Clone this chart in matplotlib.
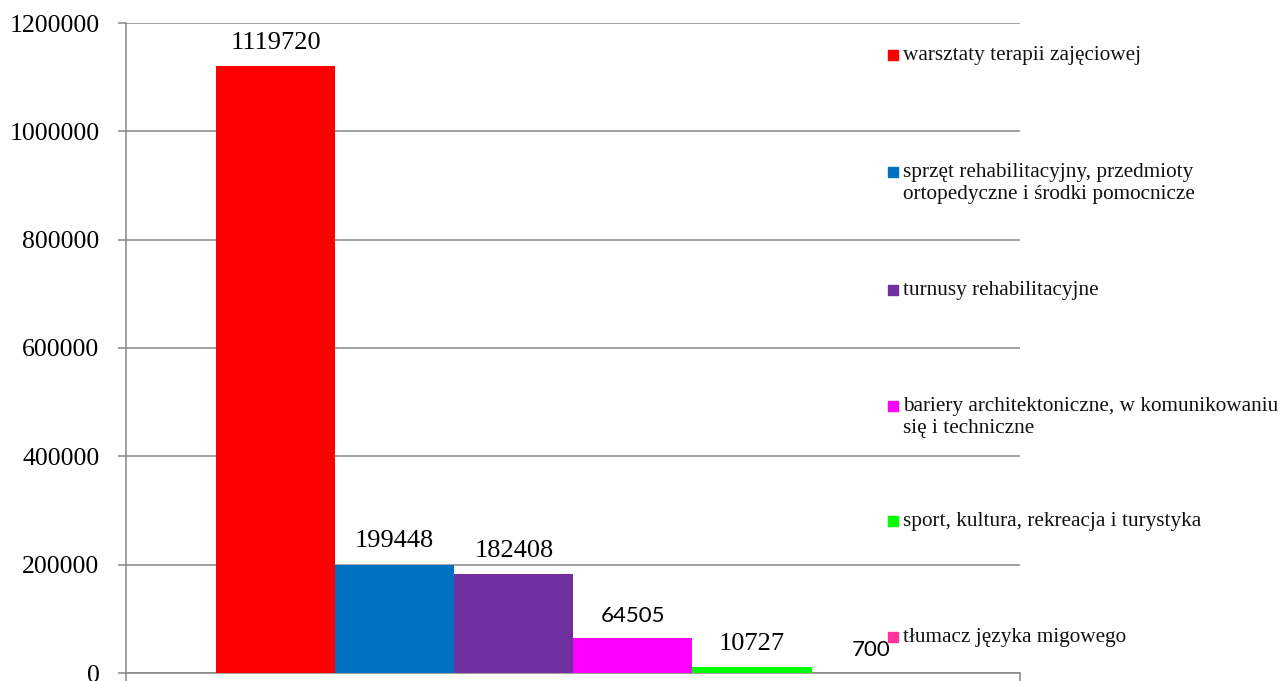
import matplotlib.pyplot as plt
from matplotlib.patches import Rectangle

# data
categories = [
    "warsztaty terapii zajęciowej",
    "sprzęt rehabilitacyjny, przedmioty\nortopedyczne i środki pomocnicze",
    "turnusy rehabilitacyjne",
    "bariery architektoniczne, w komunikowaniu\nsię i techniczne",
    "sport, kultura, rekreacja i turystyka",
    "tłumacz języka migowego",
]
values = [1119720, 199448, 182408, 64505, 10727, 700]
colors = ["#FF0000", "#0070C0", "#7030A0", "#FF00FF", "#00FF00", "#FF3399"]
label_serif = [True, True, True, False, True, False]
yticks = [0, 200000, 400000, 600000, 800000, 1000000, 1200000]

GRID = "#868686"
SERIF = ["Liberation Serif", "DejaVu Serif"]
SANS = ["Lato", "DejaVu Sans"]

fig = plt.figure(figsize=(12.82, 6.81), dpi=100, facecolor="white")
ax = fig.add_axes([126 / 1282, 8 / 681, 894 / 1282, 650 / 681])

x = list(range(len(values)))
ax.bar(x, values, width=1.0, color=colors, zorder=3)

ax.set_xlim(-1.256, 6.25)
ax.set_ylim(0, 1200000)
ax.set_yticks(yticks)
ax.set_yticklabels([str(t) for t in yticks], fontsize=18.5, family=SERIF)
ax.yaxis.grid(True, color=GRID, linewidth=1.1, zorder=0)
ax.tick_params(axis="y", length=6, width=1.1, color=GRID, pad=13)
ax.set_xticks([-1.256, 6.25])
ax.set_xticklabels([])
ax.tick_params(axis="x", length=6, width=1.1, color=GRID)
for side in ("top", "right"):
    ax.spines[side].set_visible(False)
for side in ("left", "bottom"):
    ax.spines[side].set_color(GRID)
    ax.spines[side].set_linewidth(1.1)

# data labels
for xi, v, serif in zip(x, values, label_serif):
    ax.annotate(str(v), (xi, v), xytext=(0, 9), textcoords="offset points",
                ha="center", va="bottom", fontsize=19 if serif else 16,
                family=SERIF if serif else SANS, zorder=5)

# legend, laid out like the spreadsheet one
legend_y = [55, 172, 290, 406, 521, 637]
for name, col, yy in zip(categories, colors, legend_y):
    fig.patches.append(Rectangle((888 / 1282, 1 - (yy + 5) / 681), 10 / 1282, 10 / 681,
                                 transform=fig.transFigure, color=col, figure=fig))
    fig.text(903 / 1282, 1 - (yy - 9) / 681, name, fontsize=15.3, family=SERIF,
             ha="left", va="top", linespacing=1.2, color="#111111")

fig.savefig("out.png", dpi=100)
